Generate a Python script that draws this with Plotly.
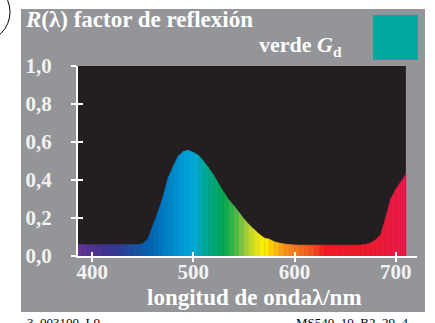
import plotly.graph_objects as go

# reflectance of "verde Gd" at 5 nm steps
wavelength = list(range(380, 715, 5))
reflectance = [
    0.060, 0.060, 0.060, 0.060, 0.060, 0.060, 0.060, 0.060, 0.060, 0.060,  # 380-425
    0.060, 0.060, 0.060, 0.060, 0.065, 0.090, 0.160, 0.230, 0.310, 0.410,  # 430-475
    0.470, 0.525, 0.550, 0.556, 0.545, 0.530, 0.500, 0.465, 0.425, 0.380,  # 480-525
    0.335, 0.295, 0.265, 0.230, 0.195, 0.165, 0.140, 0.115, 0.095, 0.088,  # 530-575
    0.075, 0.068, 0.063, 0.060, 0.058, 0.057, 0.057, 0.057, 0.057, 0.057,  # 580-625
    0.057, 0.057, 0.057, 0.057, 0.057, 0.057, 0.057, 0.058, 0.060, 0.068,  # 630-675
    0.085, 0.110, 0.200, 0.300, 0.350, 0.390, 0.430,                       # 680-710
]

x_ticks = [400, 500, 600, 700]
y_ticks = [0.0, 0.2, 0.4, 0.6, 0.8, 1.0]

# spectral colour anchors (nm, hex) used to tint each strip
spectrum = [
    (380, "#6b3a96"), (390, "#5e3592"), (400, "#523291"), (410, "#463290"),
    (420, "#3a3592"), (430, "#2d3f98"), (440, "#1f4fa0"), (450, "#0f5aa8"),
    (460, "#0068b3"), (470, "#0078c0"), (480, "#0089cc"), (490, "#009bd8"),
    (500, "#00aadf"), (505, "#00a9c0"), (510, "#00a89f"), (520, "#00a77a"),
    (530, "#00a651"), (540, "#3db54a"), (550, "#8dc63f"), (560, "#d7df23"),
    (570, "#fff200"), (580, "#fcc10f"), (590, "#f7941d"), (600, "#f47c20"),
    (610, "#f26522"), (620, "#f04e23"), (630, "#ed1c24"), (670, "#ec1b2c"),
    (710, "#e8194a"),
]

BG_GRAY = "#939598"
BLACK = "#231f20"
SERIF = "Liberation Serif"

W, H = 435, 323
L, R, T, B = 78, 18, 66, 67


def hex_rgb(h):
    h = h.lstrip("#")
    return tuple(int(h[i:i + 2], 16) for i in (0, 2, 4))


def spectral_color(nm):
    for (a, ca), (b, cb) in zip(spectrum[:-1], spectrum[1:]):
        if a <= nm <= b:
            t = (nm - a) / (b - a)
            ra, rb = hex_rgb(ca), hex_rgb(cb)
            r, g, bl = (round(ra[k] + (rb[k] - ra[k]) * t) for k in range(3))
            return f"rgb({r},{g},{bl})"
    return spectrum[-1][1]


# pixel -> paper coordinates
def px(x):
    return (x - L) / (W - L - R)


def py(y):
    return (H - B - y) / (H - T - B)


fig = go.Figure()

for i in range(len(wavelength) - 1):
    x0, x1 = wavelength[i], wavelength[i + 1]
    c = spectral_color((x0 + x1) / 2)
    fig.add_trace(go.Scatter(
        x=[x0, x0, x1, x1, x0],
        y=[0, reflectance[i], reflectance[i + 1], 0, 0],
        mode="lines", fill="toself", fillcolor=c,
        line=dict(width=0.6, color=c),
        hoverinfo="skip", showlegend=False,
    ))

# invisible trace so the overlay axes (inside tick marks) get drawn
fig.add_trace(go.Scatter(x=[None], y=[None], xaxis="x2", yaxis="y2",
                         showlegend=False, hoverinfo="skip"))

axis_common = dict(showgrid=False, zeroline=False, fixedrange=True,
                   automargin=False)
tick_font = dict(family=SERIF, size=21, color="#f2f2f2", weight="bold")

fig.update_layout(
    width=W, height=H,
    margin=dict(l=L, r=R, t=T, b=B, autoexpand=False),
    paper_bgcolor="white",
    plot_bgcolor="rgba(0,0,0,0)",
    separators=",.",
    showlegend=False,
    xaxis=dict(
        range=[386, 721], tickvals=x_ticks, ticks="outside", ticklen=4,
        tickwidth=2, tickcolor="white", showline=True, linecolor="white",
        linewidth=2, ticklabelstandoff=-8, tickfont=tick_font,
        **axis_common,
    ),
    yaxis=dict(
        range=[0, 1.0], tickvals=y_ticks, tickformat=".1f", ticks="outside",
        ticklen=5, tickwidth=2, tickcolor="white", showline=True,
        linecolor="white", linewidth=2, ticklabelstandoff=15,
        tickfont=tick_font,
        **axis_common,
    ),
    xaxis2=dict(
        overlaying="x", matches="x", anchor="y2", side="bottom",
        tickvals=x_ticks, ticks="inside", ticklen=4, tickwidth=2,
        tickcolor="white", showticklabels=False, showline=False,
        **axis_common,
    ),
    yaxis2=dict(
        overlaying="y", matches="y", anchor="x2", side="left",
        tickvals=y_ticks, ticks="inside", ticklen=5, tickwidth=2,
        tickcolor="white", showticklabels=False, showline=False,
        **axis_common,
    ),
    shapes=[
        # gray panel
        dict(type="rect", xref="paper", yref="paper", layer="below",
             x0=px(21), x1=px(425), y0=py(312), y1=py(9),
             fillcolor=BG_GRAY, line=dict(width=0)),
        # black chart field
        dict(type="rect", xref="x", yref="y", layer="below",
             x0=386, x1=710, y0=0, y1=1.0,
             fillcolor=BLACK, line=dict(width=0)),
        # colour sample
        dict(type="rect", xref="paper", yref="paper",
             x0=px(373), x1=px(418), y0=py(60), y1=py(15),
             fillcolor="#00a99d", line=dict(width=0)),
        # arc at the top-left corner
        dict(type="circle", xref="paper", yref="paper",
             x0=px(-50), x1=px(10), y0=py(42), y1=py(-18),
             line=dict(color="black", width=1)),
    ],
    annotations=[
        dict(text="<i>R</i>(λ) factor de reflexión", xref="paper", yref="paper",
             x=px(23), y=py(20), xanchor="left", yanchor="middle",
             showarrow=False,
             font=dict(family=SERIF, size=23, color="white", weight="bold")),
        dict(text="verde <i>G</i><sub>d</sub>", xref="paper", yref="paper",
             x=px(257), y=py(46), xanchor="left", yanchor="middle",
             showarrow=False,
             font=dict(family=SERIF, size=22, color="white", weight="bold")),
        dict(text="longitud de ondaλ/nm", xref="paper", yref="paper",
             x=px(254), y=py(297), xanchor="center", yanchor="middle",
             showarrow=False,
             font=dict(family=SERIF, size=23, color="white", weight="bold")),
        dict(text="3–003100–L0", xref="paper", yref="paper",
             x=px(25), y=py(313), xanchor="left", yanchor="top",
             showarrow=False,
             font=dict(family=SERIF, size=13, color="black")),
        dict(text="MS540–10_B2_29_4", xref="paper", yref="paper",
             x=px(410), y=py(313), xanchor="right", yanchor="top",
             showarrow=False,
             font=dict(family=SERIF, size=13, color="black")),
    ],
)

# drop the browser's default 8px body margin so the figure sits at the origin
fig.write_html("out.html", config={"displayModeBar": False},
               post_script="document.body.style.margin='0';")
